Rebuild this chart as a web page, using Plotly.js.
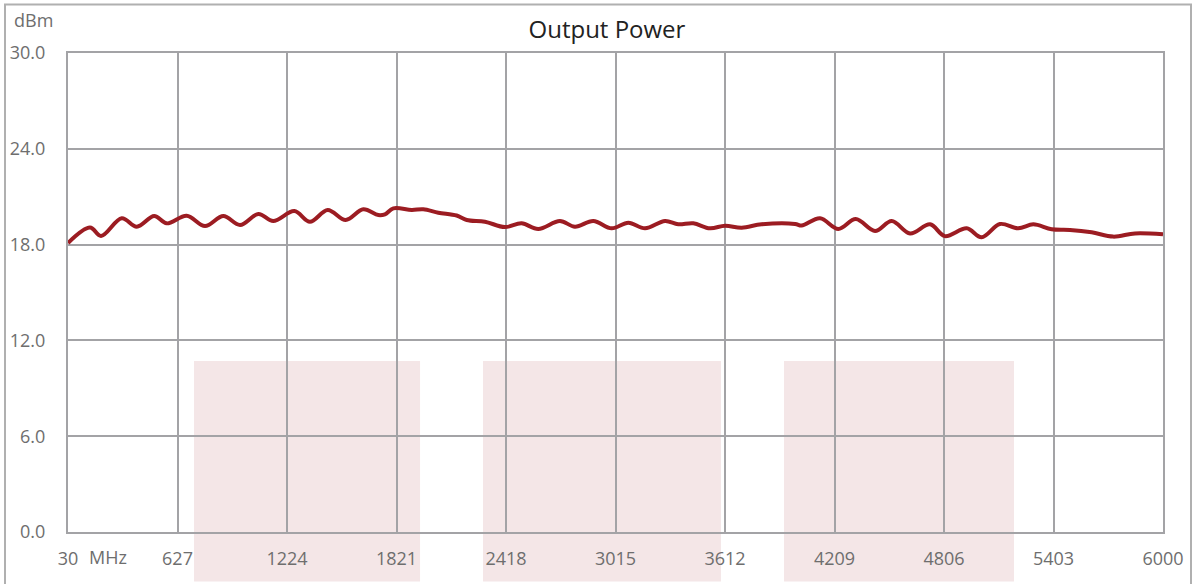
<!DOCTYPE html>
<html>
<head>
<meta charset="utf-8">
<script src="https://cdn.plot.ly/plotly-3.0.1.min.js"></script>
<style>html,body{margin:0;padding:0;background:#fff;}#chart{width:1196px;height:584px;}</style>
</head>
<body>
<div id="chart"></div>
<script>
const freqMHz = [30,150,210,323,405,500,568,677,777,877,968,1068,1149,1264,1349,1446,1544,1640,1722,1758,1804,1904,1967,2049,2149,2204,2303,2412,2503,2594,2712,2794,2894,2994,3085,3176,3285,3357,3439,3530,3612,3703,3812,3994,4030,4130,4230,4325,4430,4521,4621,4730,4811,4930,5011,5111,5211,5293,5393,5493,5611,5729,5847,6000];
const powerDbm = [18.1,19.07,18.54,19.65,19.12,19.79,19.33,19.81,19.16,19.79,19.23,19.92,19.48,20.1,19.43,20.17,19.54,20.21,19.85,19.9,20.27,20.17,20.21,20.0,19.82,19.54,19.43,19.1,19.33,18.98,19.48,19.12,19.48,19.02,19.37,19.02,19.48,19.27,19.33,19.02,19.18,19.06,19.27,19.29,19.19,19.65,18.98,19.6,18.85,19.48,18.7,19.27,18.53,19.02,18.46,19.29,19.02,19.27,18.96,18.92,18.77,18.5,18.7,18.64];
const xTickVals = [30,627,1224,1821,2418,3015,3612,4209,4806,5403,6000];
const xTickText = ["30","627","1224","1821","2418","3015","3612","4209","4806","5403","6000"];
const yTickVals = [0,6,12,18,24,30];
const yTickText = ["0.0","6.0","12.0","18.0","24.0","30.0"];

const gridColor = '#a3a3a6';
const tickFont = {family: 'Open Sans, sans-serif', size: 18, color: '#6e6e6e'};
const pink = '#f4e6e7';

const trace = {
  x: freqMHz, y: powerDbm, type: 'scatter', mode: 'lines',
  line: {color: '#9c1c22', width: 4, shape: 'spline', smoothing: 1},
  hoverinfo: 'x+y'
};

const layout = {
  width: 1196, height: 584,
  margin: {l: 68, r: 33, t: 53, b: 52},
  paper_bgcolor: '#ffffff', plot_bgcolor: 'rgba(0,0,0,0)',
  showlegend: false,
  title: {text: 'Output Power', x: 0.5075, xanchor: 'center', y: 0.949, yanchor: 'middle',
          font: {family: 'Open Sans, sans-serif', size: 24, color: '#222222'}},
  xaxis: {range: [30, 6000], tickvals: xTickVals, ticktext: xTickText,
          showgrid: true, gridcolor: gridColor, gridwidth: 2,
          zeroline: false, showline: true, linecolor: gridColor, linewidth: 2, mirror: true,
          ticks: 'outside', ticklen: 9, tickcolor: 'rgba(0,0,0,0)',
          tickfont: tickFont, fixedrange: true},
  yaxis: {range: [0, 30], tickvals: yTickVals, ticktext: yTickText,
          showgrid: true, gridcolor: gridColor, gridwidth: 2,
          zeroline: false, showline: true, linecolor: gridColor, linewidth: 2, mirror: true,
          ticks: 'outside', ticklen: 17, tickcolor: 'rgba(0,0,0,0)',
          tickfont: tickFont, fixedrange: true},
  shapes: [
    {type: 'rect', xref: 'paper', yref: 'paper', x0: 0.1151, x1: 0.3215, y0: -0.1033, y1: 0.357, fillcolor: pink, line: {width: 0}, layer: 'below'},
    {type: 'rect', xref: 'paper', yref: 'paper', x0: 0.3790, x1: 0.5963, y0: -0.1033, y1: 0.357, fillcolor: pink, line: {width: 0}, layer: 'below'},
    {type: 'rect', xref: 'paper', yref: 'paper', x0: 0.6539, x1: 0.8639, y0: -0.1033, y1: 0.357, fillcolor: pink, line: {width: 0}, layer: 'below'},
    {type: 'rect', xref: 'paper', yref: 'paper', x0: (5-68)/1095, x1: (1191-68)/1095, y0: (532-600)/479, y1: (532-4.5)/479, fillcolor: 'rgba(0,0,0,0)', line: {width: 2, color: '#b0b0b0'}, layer: 'below'}
  ],
  annotations: [
    {text: 'dBm', xref: 'paper', yref: 'paper', x: (33-68)/1095, y: (532-20)/479, showarrow: false, xanchor: 'center', yanchor: 'middle', font: tickFont},
    {text: 'MHz', xref: 'paper', yref: 'paper', x: (108-68)/1095, y: (532-557)/479, showarrow: false, xanchor: 'center', yanchor: 'middle', font: tickFont}
  ]
};

Plotly.newPlot('chart', [trace], layout, {displayModeBar: false, staticPlot: true});
</script>
</body>
</html>
